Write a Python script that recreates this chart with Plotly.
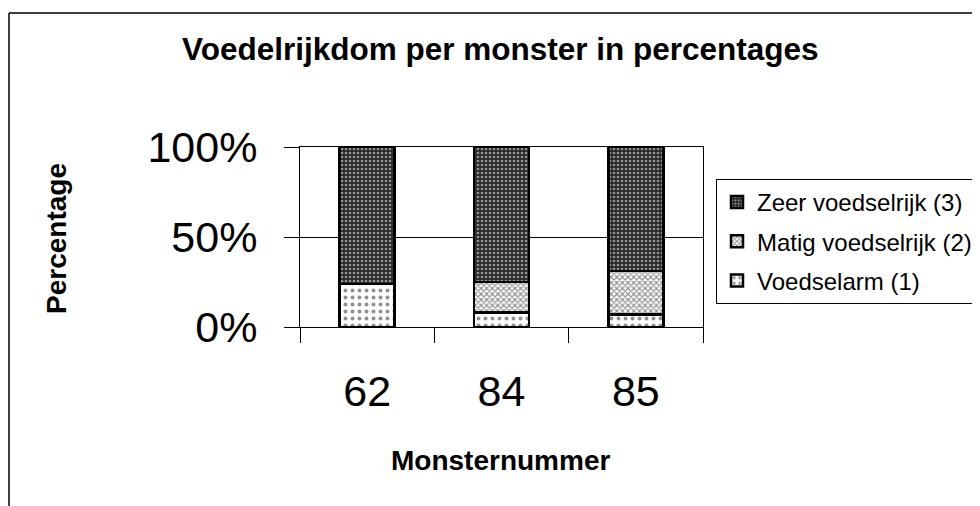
import plotly.graph_objects as go

categories = ["62", "84", "85"]
voedselarm = [24, 8, 7]
matig = [0, 17, 24]
zeer = [76, 75, 69]
y_ticks = [0, 50, 100]
y_ticklabels = ["0%", "50%", "100%"]

FONT = "Arial, Liberation Sans, sans-serif"

fig = go.Figure()
fig.add_trace(go.Bar(
    x=categories, y=voedselarm, name="Voedselarm (1)", legendgroup="a", legendrank=3,
    marker=dict(color="white", line=dict(color="black", width=2.5),
                pattern=dict(shape=".", fgcolor="#222", bgcolor="white", size=7, solidity=0.25)),
))
fig.add_trace(go.Bar(
    x=categories, y=matig, name="Matig voedselrijk (2)", legendgroup="b", legendrank=2,
    marker=dict(color="white", line=dict(color="black", width=2.5),
                pattern=dict(shape="x", fgcolor="#222", bgcolor="white", size=4, solidity=0.5)),
))
fig.add_trace(go.Bar(
    x=categories, y=zeer, name="Zeer voedselrijk (3)", legendgroup="c", legendrank=1,
    marker=dict(color="#333", line=dict(color="black", width=2.5),
                pattern=dict(shape=".", fgcolor="white", bgcolor="#2a2a2a", size=4, solidity=0.35)),
))

# Page coords: the page body has an 8px margin, so the figure starts at (8, 8).
fig.update_layout(
    barmode="stack",
    bargap=0.59,
    width=972, height=498,
    margin=dict(l=292, r=277, t=139, b=179, autoexpand=False),
    paper_bgcolor="white", plot_bgcolor="white",
    font=dict(family=FONT, color="black"),
    showlegend=True,
    legend=dict(
        x=(716 - 300) / 403, xanchor="left", y=(327 - 179) / 180, yanchor="top",
        traceorder="grouped",
        bordercolor="black", borderwidth=1, bgcolor="white",
        font=dict(size=24, family=FONT, color="black"),
        itemwidth=30,
        tracegroupgap=5,
    ),
    xaxis=dict(
        type="category",
        tickson="boundaries",
        ticks="outside", ticklen=15, tickcolor="black", tickwidth=1,
        showline=True, linecolor="black", linewidth=1, mirror=True,
        showgrid=False,
        tickfont=dict(size=43, family=FONT, color="black"),
        ticklabelstandoff=26,
    ),
    yaxis=dict(
        range=[0, 100],
        tickvals=y_ticks, ticktext=y_ticklabels,
        ticks="outside", ticklen=15, tickcolor="black", tickwidth=1,
        showline=True, linecolor="black", linewidth=1, mirror=True,
        showgrid=True, gridcolor="black", gridwidth=1,
        zeroline=False,
        tickfont=dict(size=43, family=FONT, color="black"),
        ticklabelstandoff=18,
    ),
    annotations=[
        dict(text="<b>Voedelrijkdom per monster in percentages</b>", xref="paper", yref="paper",
             x=(500 - 300) / 403, y=(327 - 49) / 180, xanchor="center", yanchor="middle",
             showarrow=False, font=dict(size=31.5, family=FONT, color="black")),
        dict(text="<b>Percentage</b>", xref="paper", yref="paper",
             x=(56 - 300) / 403, y=(327 - 238) / 180, xanchor="center", yanchor="middle",
             textangle=-90, showarrow=False, font=dict(size=28, family=FONT, color="black")),
        dict(text="<b>Monsternummer</b>", xref="paper", yref="paper",
             x=(500 - 300) / 403, y=(327 - 460) / 180, xanchor="center", yanchor="middle",
             showarrow=False, font=dict(size=28, family=FONT, color="black")),
    ],
    shapes=[
        dict(type="line", xref="paper", yref="paper",
             x0=(9 - 300) / 403, x1=(9 - 300) / 403, y0=(327 - 13) / 180, y1=(327 - 520) / 180,
             line=dict(color="black", width=1.5)),
        dict(type="line", xref="paper", yref="paper",
             x0=(9 - 300) / 403, x1=(990 - 300) / 403, y0=(327 - 13) / 180, y1=(327 - 13) / 180,
             line=dict(color="black", width=1.5)),
    ],
)

fig.write_html("out.html")
